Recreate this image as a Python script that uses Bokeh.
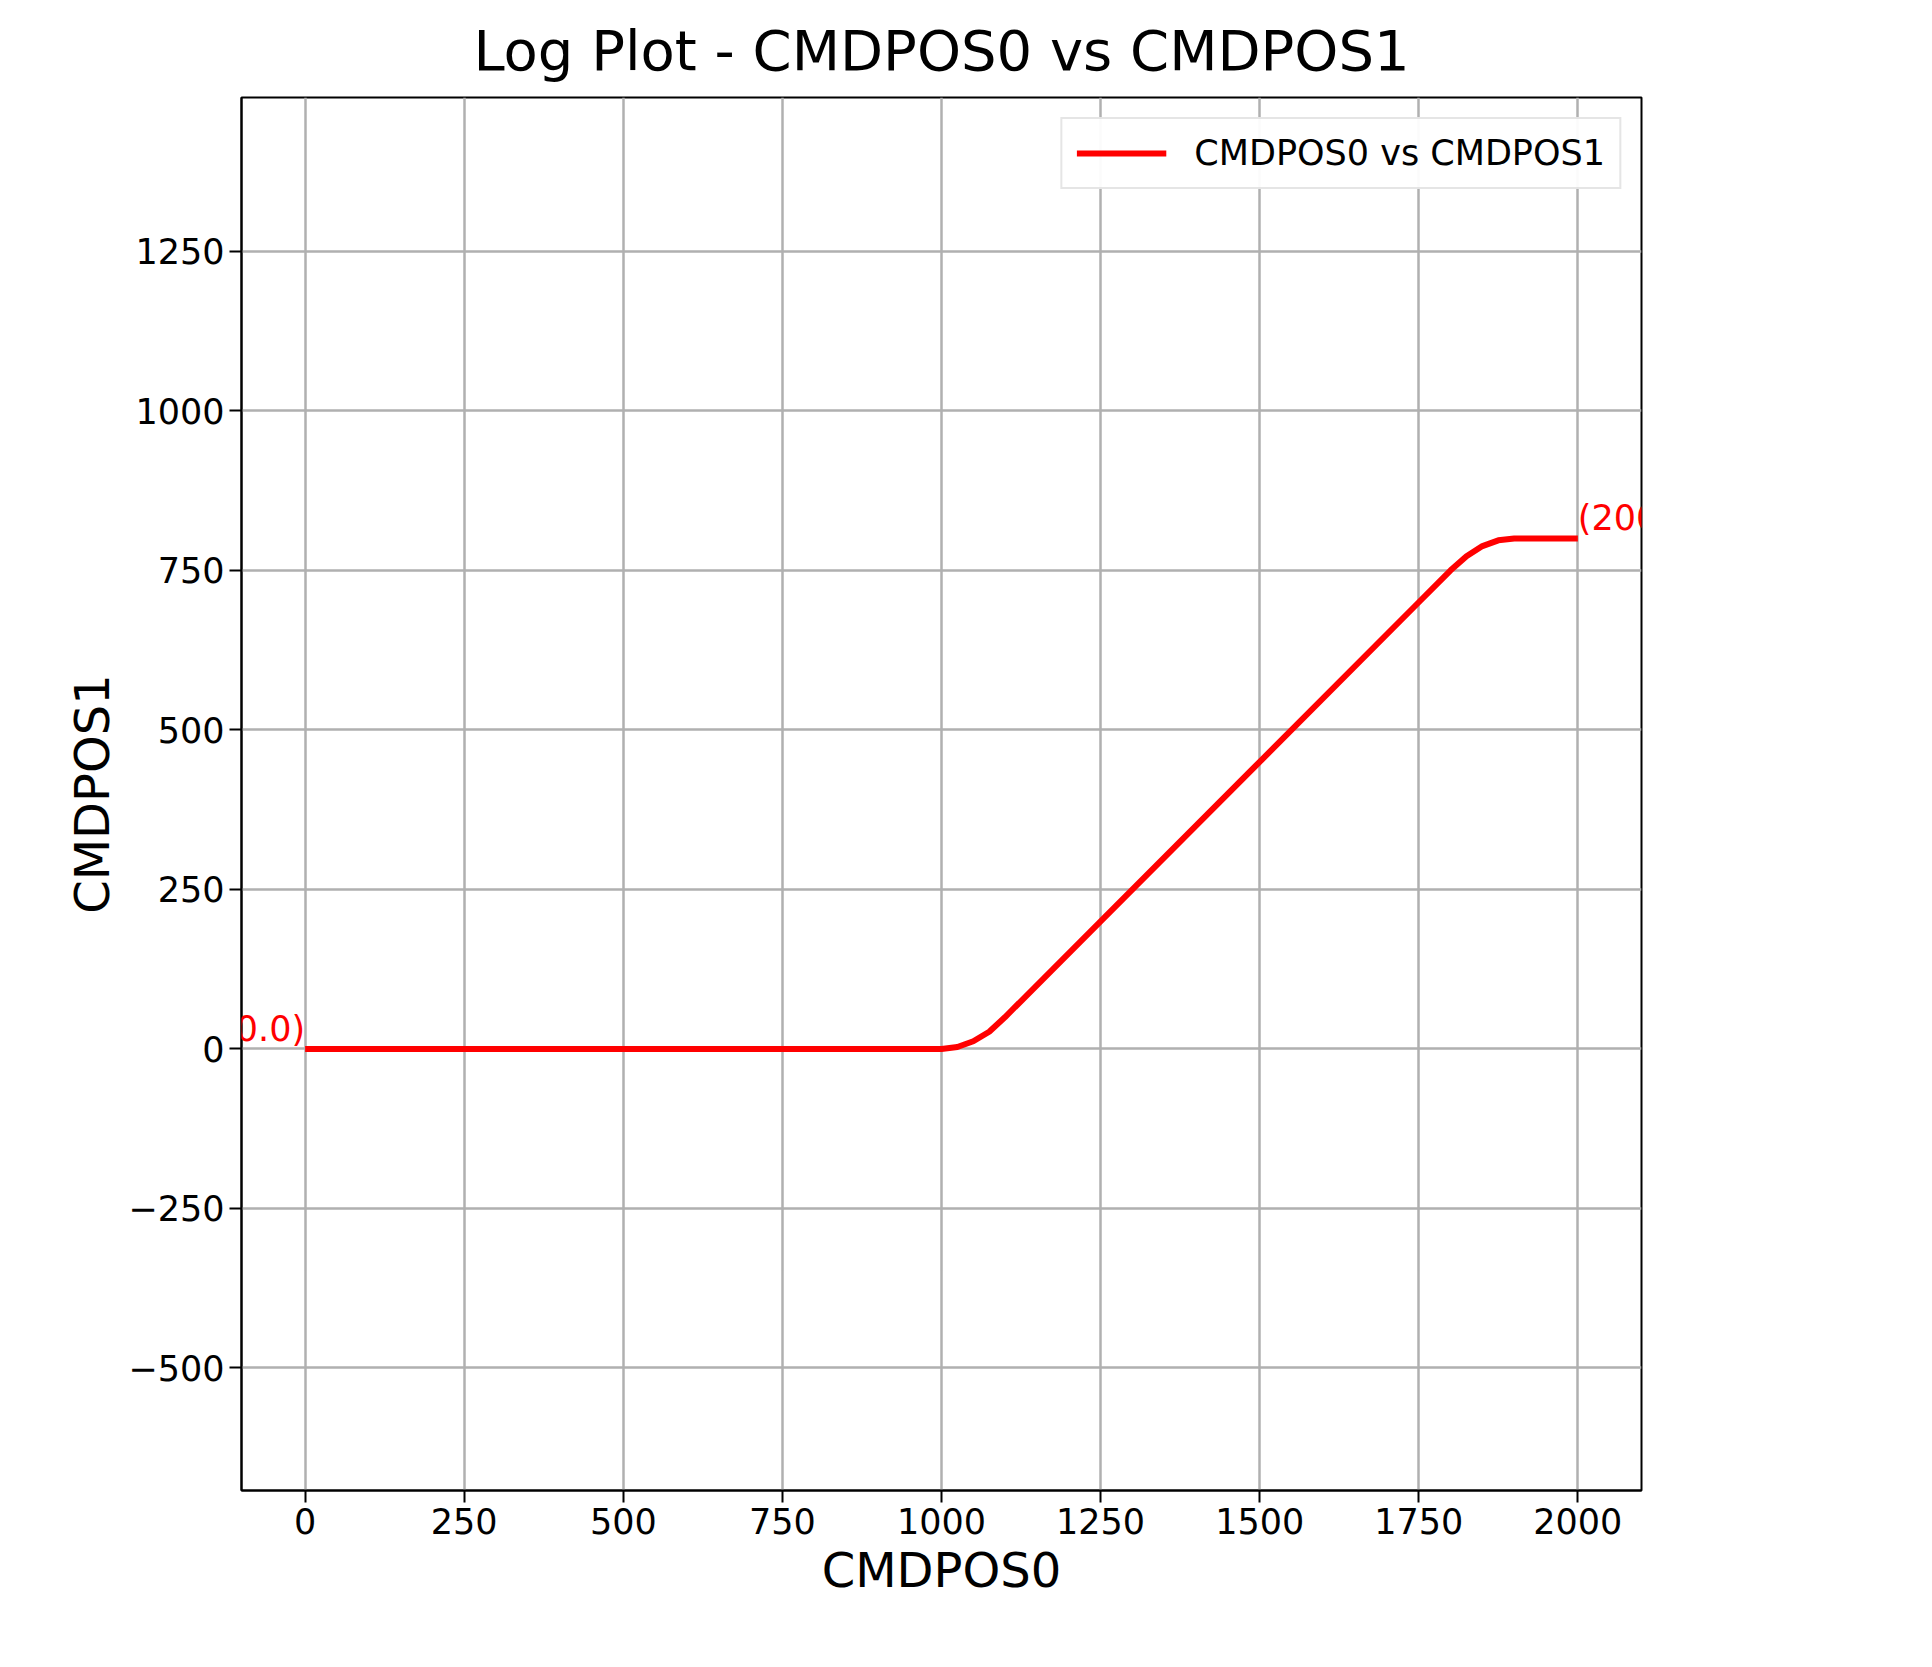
from bokeh.plotting import figure
from bokeh.models import FixedTicker, Range1d, Label, CustomJSTickFormatter, Legend, LegendItem
from bokeh.embed import file_html
from bokeh.resources import INLINE

# data
cmdpos0 = [0, 250, 500, 750, 1000, 1025, 1050, 1075, 1100, 1250, 1500, 1750, 1800,
           1825, 1850, 1875, 1900, 2000]
cmdpos1 = [0, 0, 0, 0, 0, 3, 12, 27, 50, 200, 450, 700, 750,
           772, 788, 797, 800, 800]
x_ticks = [0, 250, 500, 750, 1000, 1250, 1500, 1750, 2000]
y_ticks = [-500, -250, 0, 250, 500, 750, 1000, 1250]

FONT = "DejaVu Sans"

p = figure(width=1916, height=1651, output_backend="svg", toolbar_location=None,
           x_range=Range1d(-100, 2100), y_range=Range1d(-692, 1491),
           min_border_left=241, min_border_right=275, min_border_top=40,
           min_border_bottom=161)

p.title.text = "Log Plot - CMDPOS0 vs CMDPOS1"
p.title.text_font = FONT
p.title.text_font_size = "56px"
p.title.text_font_style = "normal"
p.title.text_color = "black"
p.title.align = "center"
p.title.standoff = 30
p.title.offset = 0

line = p.line(cmdpos0, cmdpos1, line_color="red", line_width=6)

for x, y, t, al in ((cmdpos0[0], cmdpos1[0], "(0.0, 0.0)", "right"),
                    (cmdpos0[-1], cmdpos1[-1], "(2000.0, 800.0)", "left")):
    p.add_layout(Label(x=x, y=y, text=t, text_align=al, level="overlay",
                       text_color="red", text_font=FONT, text_font_size="35px"))

legend = Legend(items=[LegendItem(label="CMDPOS0 vs CMDPOS1", renderers=[line])],
                location="top_right", label_text_font=FONT, label_text_font_size="35px",
                label_text_color="black",
                border_line_color="#cccccc", border_line_width=2,
                glyph_width=90, margin=20, padding=14, label_standoff=28)
p.add_layout(legend)

fmt = CustomJSTickFormatter(code="return String(tick).replace('-', '\u2212');")
for ax, ticks, lab in ((p.xaxis[0], x_ticks, "CMDPOS0"), (p.yaxis[0], y_ticks, "CMDPOS1")):
    ax.ticker = FixedTicker(ticks=ticks)
    ax.formatter = fmt
    ax.axis_label = lab
    ax.axis_label_text_font = FONT
    ax.axis_label_text_font_size = "48px"
    ax.axis_label_text_font_style = "normal"
    ax.axis_label_text_color = "black"
    ax.major_label_text_font = FONT
    ax.major_label_text_font_size = "35px"
    ax.major_label_text_color = "black"
    ax.major_tick_out = 12
    ax.major_tick_in = 0
    ax.minor_tick_out = 0
    ax.minor_tick_in = 0
    ax.axis_line_width = 2
    ax.major_tick_line_width = 2

p.grid.grid_line_color = "#b0b0b0"
p.grid.grid_line_width = 2.5
p.outline_line_color = "black"
p.outline_line_width = 2
p.outline_line_alpha = 1

open("out.html", "w").write(file_html(p, INLINE))
